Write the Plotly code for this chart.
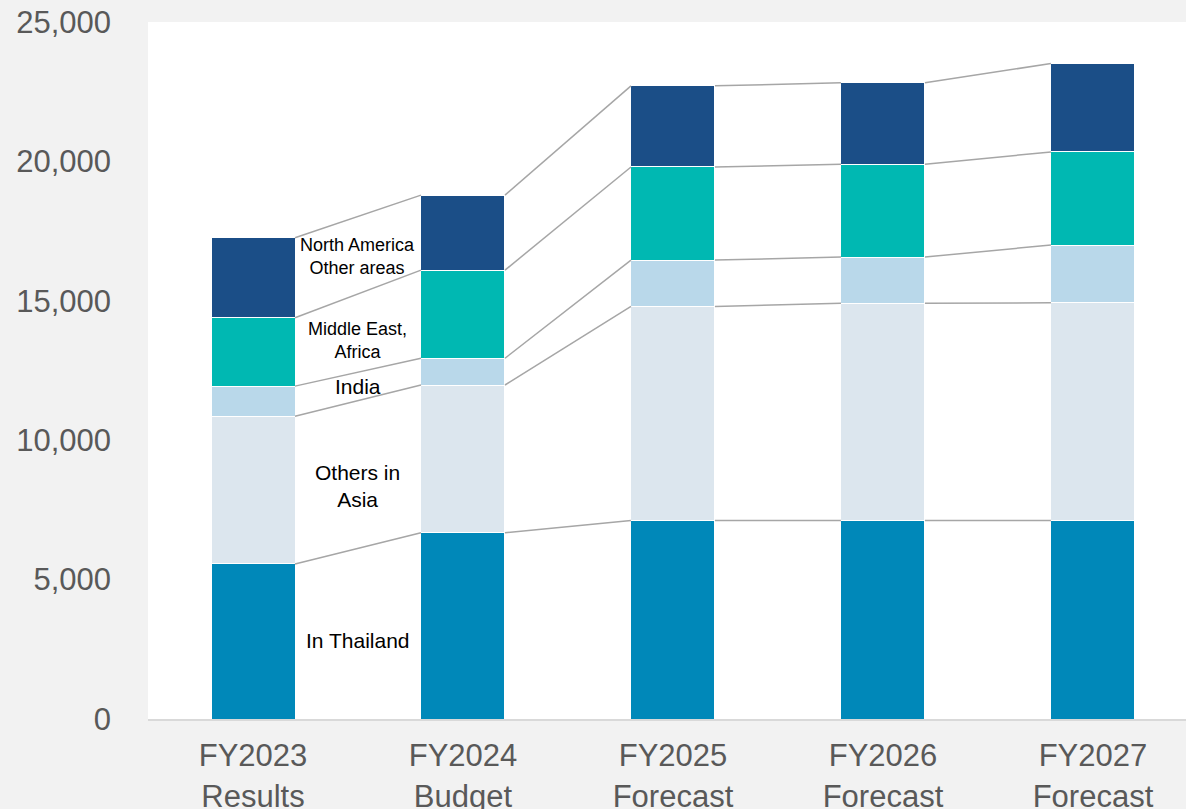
import plotly.graph_objects as go
import numpy as np

categories = ["FY2023<br>Results", "FY2024<br>Budget", "FY2025<br>Forecast", "FY2026<br>Forecast", "FY2027<br>Forecast"]
thailand = [5560, 6680, 7120, 7120, 7120]
others_asia = [5300, 5300, 7680, 7790, 7810]
india = [1080, 960, 1660, 1660, 2070]
me_africa = [2450, 3160, 3340, 3330, 3340]
na_other = [2870, 2690, 2910, 2920, 3170]

series_names = ["In Thailand", "Others in Asia", "India", "Middle East, Africa", "North America Other areas"]
series_vals = [thailand, others_asia, india, me_africa, na_other]
colors = ["#0088b9", "#dce6ee", "#b9d8ea", "#00b8b2", "#1b4e87"]

labels = ["In Thailand", "Others in<br>Asia", "India", "Middle East,<br>Africa", "North America<br>Other areas"]
label_y = [2810, 8340, 11930, 13580, 16590]
label_size = [21, 21, 21, 18, 18]

x = np.arange(len(categories))
bar_w = 0.4

fig = go.Figure()
for name, vals, col in zip(series_names, series_vals, colors):
    fig.add_trace(go.Bar(x=x, y=vals, name=name, marker=dict(color=col, line=dict(color="white", width=1)),
                         width=bar_w, showlegend=False))

cum = np.cumsum(np.array(series_vals), axis=0)
for row in cum:
    for i in range(len(categories) - 1):
        fig.add_trace(go.Scatter(x=[x[i] + bar_w / 2, x[i + 1] - bar_w / 2], y=[row[i], row[i + 1]],
                                 mode="lines", line=dict(color="#a6a6a6", width=1.5),
                                 hoverinfo="skip", showlegend=False))

for txt, yy, fs in zip(labels, label_y, label_size):
    fig.add_annotation(x=0.5, y=yy, text=txt, showarrow=False, xref="x", yref="y",
                       font=dict(size=fs, color="#000000", family="Liberation Sans, Arial"))

fig.update_layout(
    width=1186, height=809,
    margin=dict(l=148, r=0, t=22, b=90),
    paper_bgcolor="#f2f2f2", plot_bgcolor="#ffffff",
    barmode="stack",
    font=dict(family="Liberation Sans, Arial", color="#595959"),
)
fig.update_xaxes(tickvals=list(x), ticktext=categories, range=[-0.5, 4.443],
                 showline=True, linecolor="#d9d9d9", linewidth=2, showgrid=False,
                 tickfont=dict(size=31, color="#595959"), ticks="", ticklabelstandoff=8,
                 automargin=False)
fig.update_yaxes(range=[0, 25000], tickvals=[0, 5000, 10000, 15000, 20000, 25000],
                 tickformat=",d", showgrid=False, zeroline=False, showline=False,
                 tickfont=dict(size=31, color="#595959"), ticklabelstandoff=36, automargin=False)

fig.write_html("out.html")
